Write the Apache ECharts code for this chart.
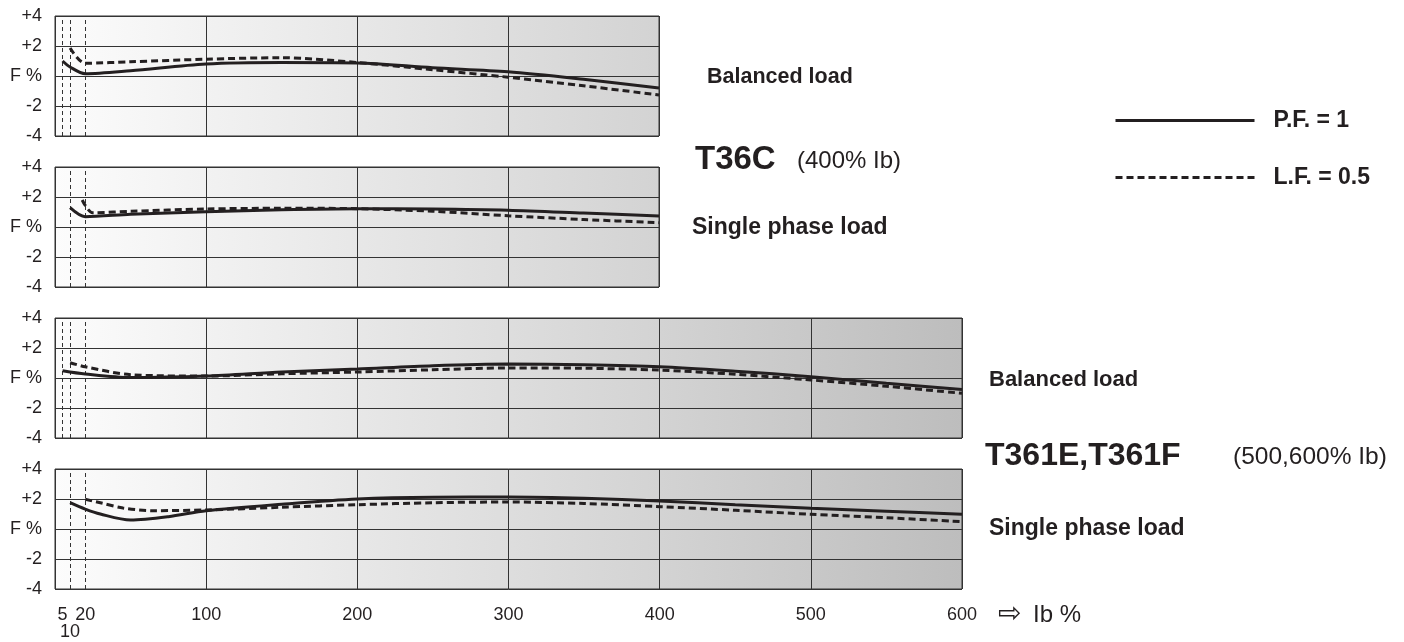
<!DOCTYPE html>
<html>
<head>
<meta charset="utf-8">
<script src="https://cdn.jsdelivr.net/npm/echarts@6/dist/echarts.min.js"></script>
<style>
html,body{margin:0;padding:0;background:#fff;}
#chart{width:1404px;height:642px;}
</style>
</head>
<body>
<div id="chart"></div>
<script>
// ---- data ----
// Panel 1: T36C balanced load
const p1SolidX = [5, 10, 20, 50, 100, 150, 200, 250, 300, 350, 400];
const p1SolidY = [1.0, 0.6, 0.15, 0.35, 0.8, 0.9, 0.87, 0.55, 0.28, -0.22, -0.8];
const p1DashX = [10, 20, 50, 100, 150, 200, 250, 300, 350, 400];
const p1DashY = [1.87, 0.85, 0.95, 1.12, 1.22, 0.9, 0.42, -0.08, -0.65, -1.27];
// Panel 2: T36C single phase load
const p2SolidX = [10, 20, 50, 100, 150, 200, 250, 300, 350, 400];
const p2SolidY = [1.29, 0.69, 0.85, 1.02, 1.15, 1.22, 1.2, 1.12, 0.93, 0.73];
const p2DashX = [18, 25, 50, 100, 150, 200, 250, 300, 350, 400];
const p2DashY = [1.8, 0.95, 1.05, 1.2, 1.25, 1.22, 1.05, 0.75, 0.5, 0.29];
// Panel 3: T361E,T361F balanced load
const p3SolidX = [5, 20, 50, 100, 150, 200, 250, 300, 350, 400, 450, 500, 550, 600];
const p3SolidY = [0.49, 0.27, 0.03, 0.13, 0.4, 0.6, 0.82, 0.93, 0.88, 0.75, 0.45, 0.09, -0.35, -0.76];
const p3DashX = [10, 20, 50, 100, 150, 200, 250, 300, 350, 400, 450, 500, 550, 600];
const p3DashY = [1.02, 0.75, 0.22, 0.13, 0.28, 0.4, 0.55, 0.67, 0.65, 0.53, 0.25, -0.13, -0.55, -1.02];
// Panel 4: T361E,T361F single phase load
const p4SolidX = [10, 20, 30, 50, 75, 100, 150, 200, 250, 300, 350, 400, 450, 500, 550, 600];
const p4SolidY = [1.76, 1.33, 1.0, 0.6, 0.82, 1.22, 1.65, 2.0, 2.12, 2.13, 2.05, 1.87, 1.62, 1.38, 1.18, 0.98];
const p4DashX = [20, 30, 45, 65, 100, 150, 200, 250, 300, 350, 400, 450, 500, 550, 600];
const p4DashY = [1.98, 1.75, 1.4, 1.22, 1.27, 1.45, 1.62, 1.75, 1.8, 1.7, 1.49, 1.25, 0.98, 0.75, 0.49];

const refLinesBalanced = [5, 10, 20];
const refLinesSingle = [10, 20];

const xTickLabels = [5, 20, 100, 200, 300, 400, 500, 600];
const xTickLabelsLower = [10];
const yTickText = {'4': '+4', '2': '+2', '0': 'F %', '-2': '-2', '-4': '-4'};

const seriesNames = ['P.F. = 1', 'L.F. = 0.5'];

// ---- helpers ----
const INK = '#231f20';
const FONT = '"Liberation Sans", Arial, Helvetica, sans-serif';
function pairs(xs, ys){ return xs.map((x, i) => [x, ys[i]]); }
function bg(stops){
  return new echarts.graphic.LinearGradient(0, 0, 1, 0, stops.map(s => ({offset: s[0], color: s[1]})));
}
const bg400 = bg([[0, '#fcfcfc'], [1, '#d3d3d3']]);
const bg600 = bg([[0, '#fcfcfc'], [0.667, '#d3d3d3'], [1, '#bdbdbd']]);

const gridsPos = [
  {left: 55, top: 16, width: 604, height: 120, backgroundColor: bg400},
  {left: 55, top: 167, width: 604, height: 120, backgroundColor: bg400},
  {left: 55, top: 318, width: 907, height: 120, backgroundColor: bg600},
  {left: 55, top: 469, width: 907, height: 120, backgroundColor: bg600}
];
const maxX = [400, 400, 600, 600];

const grid = gridsPos.map(g => Object.assign({show: true, borderColor: '#333', borderWidth: 1}, g));

const xAxis = maxX.map((m, i) => ({
  type: 'value', gridIndex: i, min: 0, max: m, interval: 100,
  axisLine: {show: false}, axisTick: {show: false},
  splitLine: {show: true, lineStyle: {color: '#333', width: 1}},
  axisLabel: i === 3 ? {
    show: true, customValues: xTickLabels, margin: 17, hideOverlap: false,
    showMinLabel: true, showMaxLabel: true,
    fontSize: 18, color: INK, fontFamily: FONT
  } : {show: false}
}));
// extra axis carrying the lower "10" tick label under the bottom panel
xAxis.push({
  type: 'value', gridIndex: 3, min: 0, max: 600, position: 'bottom',
  axisLine: {show: false}, axisTick: {show: false}, splitLine: {show: false},
  axisLabel: {show: true, customValues: xTickLabelsLower, margin: 34, hideOverlap: false,
    fontSize: 18, color: INK, fontFamily: FONT}
});

const yAxis = maxX.map((m, i) => ({
  type: 'value', gridIndex: i, min: -4, max: 4, interval: 2,
  axisLine: {show: false}, axisTick: {show: false},
  splitLine: {show: true, lineStyle: {color: '#333', width: 1}},
  axisLabel: {show: true, margin: 13, fontSize: 18, color: INK, fontFamily: FONT,
    formatter: v => yTickText[String(v)]}
}));

function solid(i, xs, ys, refs){
  const s = {
    name: seriesNames[0], type: 'line', xAxisIndex: i, yAxisIndex: i,
    data: pairs(xs, ys), smooth: 0.3, symbol: 'none',
    lineStyle: {color: INK, width: 3}, itemStyle: {color: INK}, z: 5
  };
  if (refs) {
    s.markLine = {
      silent: true, symbol: 'none', label: {show: false},
      lineStyle: {type: [4, 3], color: '#333', width: 1},
      data: refs.map(r => ({xAxis: r})), z: 3
    };
  }
  return s;
}
function dashed(i, xs, ys){
  return {
    name: seriesNames[1], type: 'line', xAxisIndex: i, yAxisIndex: i,
    data: pairs(xs, ys), smooth: 0.3, symbol: 'none',
    lineStyle: {color: INK, width: 3, type: [7, 4]}, itemStyle: {color: INK}, z: 4
  };
}

const series = [
  solid(0, p1SolidX, p1SolidY, refLinesBalanced), dashed(0, p1DashX, p1DashY),
  solid(1, p2SolidX, p2SolidY, refLinesSingle), dashed(1, p2DashX, p2DashY),
  solid(2, p3SolidX, p3SolidY, refLinesBalanced), dashed(2, p3DashX, p3DashY),
  solid(3, p4SolidX, p4SolidY, refLinesSingle), dashed(3, p4DashX, p4DashY)
];

function txt(x, y, text, size, bold){
  return {type: 'text', x: x, y: y, silent: true,
    style: {text: text, fill: INK, font: (bold ? 'bold ' : '') + size + 'px ' + FONT,
      align: 'left', verticalAlign: 'middle'}};
}

const graphic = [
  txt(707, 77, 'Balanced load', 21.5, true),
  txt(695, 160, 'T36C', 33, true),
  txt(797, 161, '(400% Ib)', 24, false),
  txt(692, 228, 'Single phase load', 23, true),
  txt(989, 380, 'Balanced load', 22, true),
  txt(985, 456, 'T361E,T361F', 32, true),
  txt(1233, 457, '(500,600% Ib)', 24.5, false),
  txt(989, 529, 'Single phase load', 23, true),
  txt(998, 614, '\u21E8', 28, false),
  txt(1033, 615, 'Ib %', 24, false)
];

const chart = echarts.init(document.getElementById('chart'), null, {renderer: 'canvas'});
chart.setOption({
  animation: false,
  backgroundColor: '#ffffff',
  grid: grid, xAxis: xAxis, yAxis: yAxis, series: series,
  legend: {
    orient: 'vertical', left: 1114, top: 109, padding: 0,
    data: seriesNames, itemWidth: 139, itemHeight: 14, itemGap: 34,
    selectedMode: false,
    lineStyle: {width: 3},
    itemStyle: {opacity: 0, color: 'rgba(0,0,0,0)', borderWidth: 0},
    textStyle: {color: INK, fontSize: 23, fontWeight: 'bold', fontFamily: FONT, padding: [0, 0, 0, 14]}
  },
  graphic: graphic
});
</script>
</body>
</html>
